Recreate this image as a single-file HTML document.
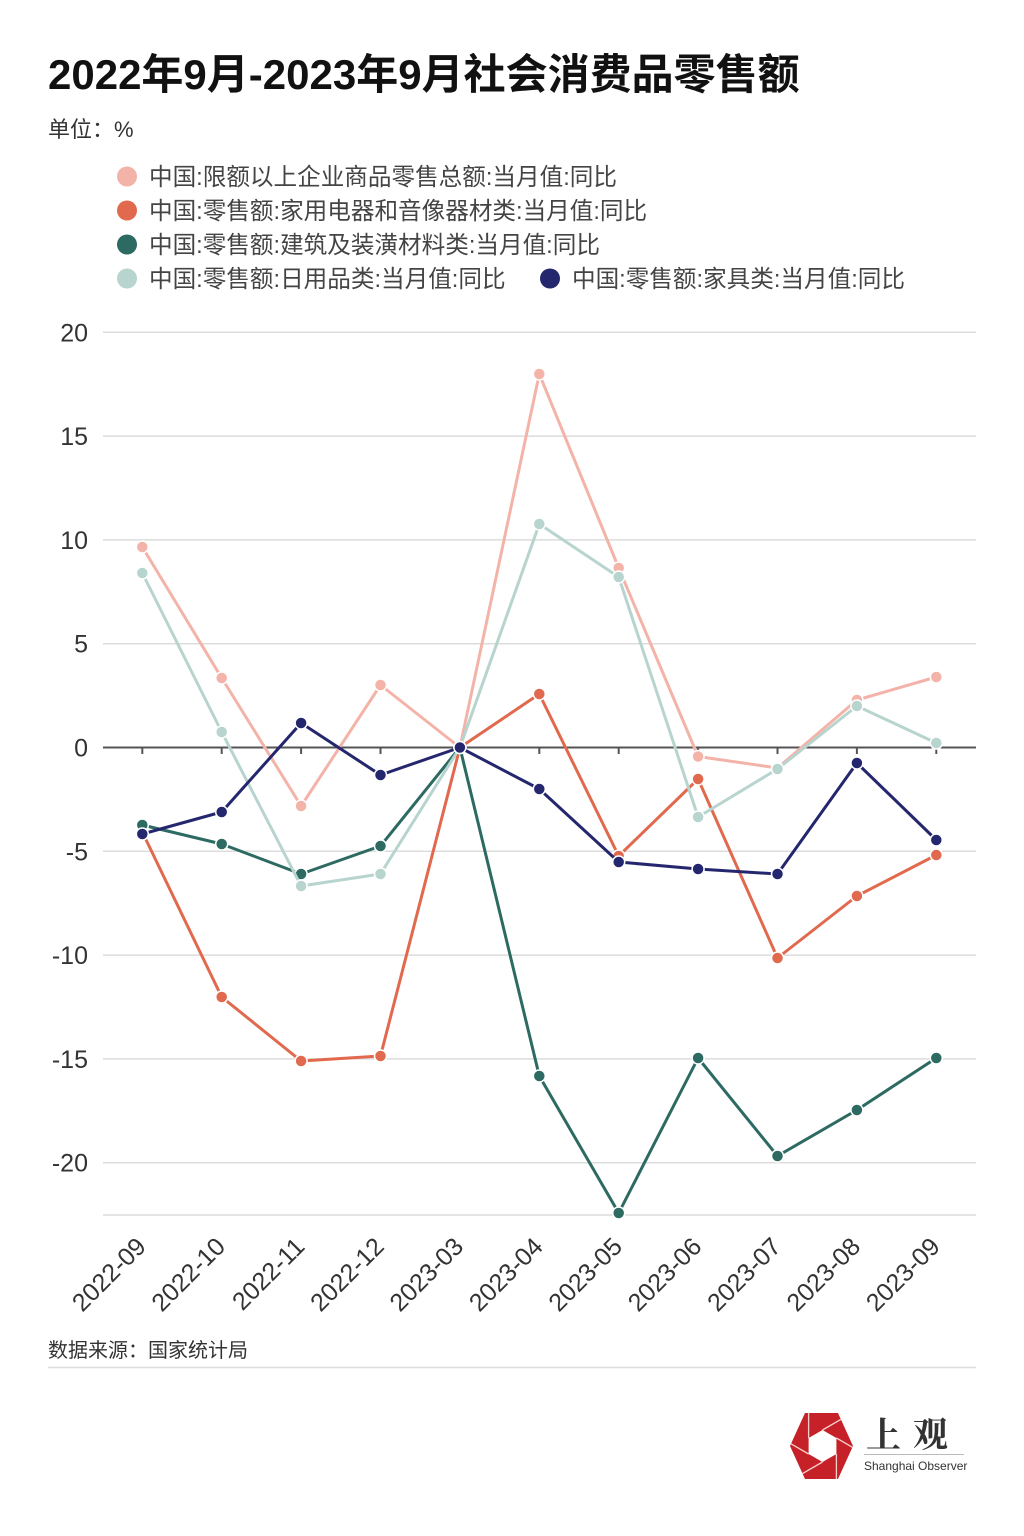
<!DOCTYPE html>
<html><head><meta charset="utf-8"><style>
html,body{margin:0;padding:0;background:#fff;}
svg{display:block;}
text{font-family:"Liberation Sans","Noto Sans CJK SC",sans-serif;}
</style></head><body>
<svg width="1024" height="1536" viewBox="0 0 1024 1536" xmlns="http://www.w3.org/2000/svg">
<defs>
<clipPath id="hexclip"><polygon points="790,1446 805,1413 838,1413 853,1446 838,1479 805,1479"/></clipPath>
</defs>
<rect width="1024" height="1536" fill="#fff"/>
<text x="48" y="89" font-size="42" font-weight="bold" fill="#111">2022年9月-2023年9月社会消费品零售额</text>
<text x="48" y="137" font-size="22" fill="#333">单位：%</text>

<g font-size="23.6" fill="#444">
<circle cx="127" cy="176.5" r="10" fill="#F4B3A8"/><text x="149" y="185">中国:限额以上企业商品零售总额:当月值:同比</text>
<circle cx="127" cy="210.5" r="10" fill="#E0694E"/><text x="149" y="219">中国:零售额:家用电器和音像器材类:当月值:同比</text>
<circle cx="127" cy="244.5" r="10" fill="#2C6A62"/><text x="149" y="253">中国:零售额:建筑及装潢材料类:当月值:同比</text>
<circle cx="127" cy="278.5" r="10" fill="#B8D4CF"/><text x="149" y="287">中国:零售额:日用品类:当月值:同比</text>
<circle cx="550" cy="278.5" r="10" fill="#25276E"/><text x="572" y="287">中国:零售额:家具类:当月值:同比</text>
</g>

<g stroke="#dcdcdc" stroke-width="1.5">
<line x1="103" y1="332.3" x2="976" y2="332.3"/>
<line x1="103" y1="436.1" x2="976" y2="436.1"/>
<line x1="103" y1="539.9" x2="976" y2="539.9"/>
<line x1="103" y1="643.7" x2="976" y2="643.7"/>
<line x1="103" y1="851.3" x2="976" y2="851.3"/>
<line x1="103" y1="955.1" x2="976" y2="955.1"/>
<line x1="103" y1="1058.9" x2="976" y2="1058.9"/>
<line x1="103" y1="1162.7" x2="976" y2="1162.7"/>
<line x1="103" y1="1215" x2="976" y2="1215"/>
</g>
<g stroke="#555" stroke-width="2">
<line x1="103" y1="747.5" x2="976" y2="747.5"/>
<line x1="142.3" y1="747" x2="142.3" y2="754"/>
<line x1="221.7" y1="747" x2="221.7" y2="754"/>
<line x1="301.1" y1="747" x2="301.1" y2="754"/>
<line x1="380.5" y1="747" x2="380.5" y2="754"/>
<line x1="459.9" y1="747" x2="459.9" y2="754"/>
<line x1="539.3" y1="747" x2="539.3" y2="754"/>
<line x1="618.7" y1="747" x2="618.7" y2="754"/>
<line x1="698.1" y1="747" x2="698.1" y2="754"/>
<line x1="777.5" y1="747" x2="777.5" y2="754"/>
<line x1="856.9" y1="747" x2="856.9" y2="754"/>
<line x1="936.3" y1="747" x2="936.3" y2="754"/>
</g>

<g font-size="25" fill="#333" text-anchor="end">
<text x="88" y="341.3">20</text>
<text x="88" y="445.1">15</text>
<text x="88" y="548.9">10</text>
<text x="88" y="652.7">5</text>
<text x="88" y="756.5">0</text>
<text x="88" y="860.3">-5</text>
<text x="88" y="964.1">-10</text>
<text x="88" y="1067.9">-15</text>
<text x="88" y="1171.7">-20</text>
</g>

<g font-size="25" fill="#333" text-anchor="end">
<text x="147.3" y="1248" transform="rotate(-45 147.3 1248)">2022-09</text>
<text x="226.7" y="1248" transform="rotate(-45 226.7 1248)">2022-10</text>
<text x="306.1" y="1248" transform="rotate(-45 306.1 1248)">2022-11</text>
<text x="385.5" y="1248" transform="rotate(-45 385.5 1248)">2022-12</text>
<text x="464.9" y="1248" transform="rotate(-45 464.9 1248)">2023-03</text>
<text x="544.3" y="1248" transform="rotate(-45 544.3 1248)">2023-04</text>
<text x="623.7" y="1248" transform="rotate(-45 623.7 1248)">2023-05</text>
<text x="703.1" y="1248" transform="rotate(-45 703.1 1248)">2023-06</text>
<text x="782.5" y="1248" transform="rotate(-45 782.5 1248)">2023-07</text>
<text x="861.9" y="1248" transform="rotate(-45 861.9 1248)">2023-08</text>
<text x="941.3" y="1248" transform="rotate(-45 941.3 1248)">2023-09</text>
</g>

<!-- series -->
<polyline fill="none" stroke="#F4B3A8" stroke-width="3" stroke-linejoin="round" points="142.3,547 221.7,678 301.1,806 380.5,685 459.9,747.5 539.3,374 618.7,568 698.1,756.5 777.5,768 856.9,700 936.3,677"/>
<g fill="#F4B3A8" stroke="#fff" stroke-width="1.5">
<circle cx="142.3" cy="547" r="6"/><circle cx="221.7" cy="678" r="6"/><circle cx="301.1" cy="806" r="6"/><circle cx="380.5" cy="685" r="6"/><circle cx="459.9" cy="747.5" r="6"/><circle cx="539.3" cy="374" r="6"/><circle cx="618.7" cy="568" r="6"/><circle cx="698.1" cy="756.5" r="6"/><circle cx="777.5" cy="768" r="6"/><circle cx="856.9" cy="700" r="6"/><circle cx="936.3" cy="677" r="6"/>
</g>

<polyline fill="none" stroke="#E0694E" stroke-width="3" stroke-linejoin="round" points="142.3,832 221.7,997 301.1,1061 380.5,1056 459.9,747.5 539.3,694 618.7,856 698.1,779 777.5,958 856.9,896 936.3,855"/>
<g fill="#E0694E" stroke="#fff" stroke-width="1.5">
<circle cx="142.3" cy="832" r="6"/><circle cx="221.7" cy="997" r="6"/><circle cx="301.1" cy="1061" r="6"/><circle cx="380.5" cy="1056" r="6"/><circle cx="459.9" cy="747.5" r="6"/><circle cx="539.3" cy="694" r="6"/><circle cx="618.7" cy="856" r="6"/><circle cx="698.1" cy="779" r="6"/><circle cx="777.5" cy="958" r="6"/><circle cx="856.9" cy="896" r="6"/><circle cx="936.3" cy="855" r="6"/>
</g>

<polyline fill="none" stroke="#2C6A62" stroke-width="3" stroke-linejoin="round" points="142.3,825 221.7,844 301.1,874 380.5,846 459.9,747.5 539.3,1076 618.7,1213 698.1,1058 777.5,1156 856.9,1110 936.3,1058"/>
<g fill="#2C6A62" stroke="#fff" stroke-width="1.5">
<circle cx="142.3" cy="825" r="6"/><circle cx="221.7" cy="844" r="6"/><circle cx="301.1" cy="874" r="6"/><circle cx="380.5" cy="846" r="6"/><circle cx="459.9" cy="747.5" r="6"/><circle cx="539.3" cy="1076" r="6"/><circle cx="618.7" cy="1213" r="6"/><circle cx="698.1" cy="1058" r="6"/><circle cx="777.5" cy="1156" r="6"/><circle cx="856.9" cy="1110" r="6"/><circle cx="936.3" cy="1058" r="6"/>
</g>

<polyline fill="none" stroke="#B8D4CF" stroke-width="3" stroke-linejoin="round" points="142.3,573 221.7,732 301.1,886 380.5,874 459.9,747.5 539.3,524 618.7,577 698.1,817 777.5,769 856.9,706 936.3,743"/>
<g fill="#B8D4CF" stroke="#fff" stroke-width="1.5">
<circle cx="142.3" cy="573" r="6"/><circle cx="221.7" cy="732" r="6"/><circle cx="301.1" cy="886" r="6"/><circle cx="380.5" cy="874" r="6"/><circle cx="459.9" cy="747.5" r="6"/><circle cx="539.3" cy="524" r="6"/><circle cx="618.7" cy="577" r="6"/><circle cx="698.1" cy="817" r="6"/><circle cx="777.5" cy="769" r="6"/><circle cx="856.9" cy="706" r="6"/><circle cx="936.3" cy="743" r="6"/>
</g>

<polyline fill="none" stroke="#25276E" stroke-width="3" stroke-linejoin="round" points="142.3,834 221.7,812 301.1,723 380.5,775 459.9,747.5 539.3,789 618.7,862 698.1,869 777.5,874 856.9,763 936.3,840"/>
<g fill="#25276E" stroke="#fff" stroke-width="1.5">
<circle cx="142.3" cy="834" r="6"/><circle cx="221.7" cy="812" r="6"/><circle cx="301.1" cy="723" r="6"/><circle cx="380.5" cy="775" r="6"/><circle cx="459.9" cy="747.5" r="6"/><circle cx="539.3" cy="789" r="6"/><circle cx="618.7" cy="862" r="6"/><circle cx="698.1" cy="869" r="6"/><circle cx="777.5" cy="874" r="6"/><circle cx="856.9" cy="763" r="6"/><circle cx="936.3" cy="840" r="6"/>
</g>

<text x="48" y="1357" font-size="20" fill="#333">数据来源：国家统计局</text>
<line x1="48" y1="1367.5" x2="976" y2="1367.5" stroke="#dcdcdc" stroke-width="1.5"/>

<!-- logo -->
<polygon points="790,1446 805,1413 838,1413 853,1446 838,1479 805,1479" fill="#C62128"/>
<polygon points="822.5,1430 836.4,1438 836.4,1454 822.5,1462 808.6,1454 808.6,1438" fill="#fff"/>
<g stroke="#F6CFCB" stroke-width="1.3" clip-path="url(#hexclip)">
<line x1="822.5" y1="1430" x2="857.1" y2="1410"/>
<line x1="836.4" y1="1438" x2="871" y2="1458"/>
<line x1="836.4" y1="1454" x2="836.4" y2="1494"/>
<line x1="822.5" y1="1462" x2="787.9" y2="1482"/>
<line x1="808.6" y1="1454" x2="774" y2="1434"/>
<line x1="808.6" y1="1438" x2="808.6" y2="1398"/>
</g>
<text x="866" y="1447" font-size="35" font-weight="bold" fill="#333" letter-spacing="12" style="font-family:'Noto Serif CJK SC','Noto Sans CJK SC',serif;">上观</text>
<line x1="864" y1="1454.5" x2="964" y2="1454.5" stroke="#bbb" stroke-width="1"/>
<text x="864" y="1470" font-size="12" fill="#333">Shanghai Observer</text>
</svg>
</body></html>
